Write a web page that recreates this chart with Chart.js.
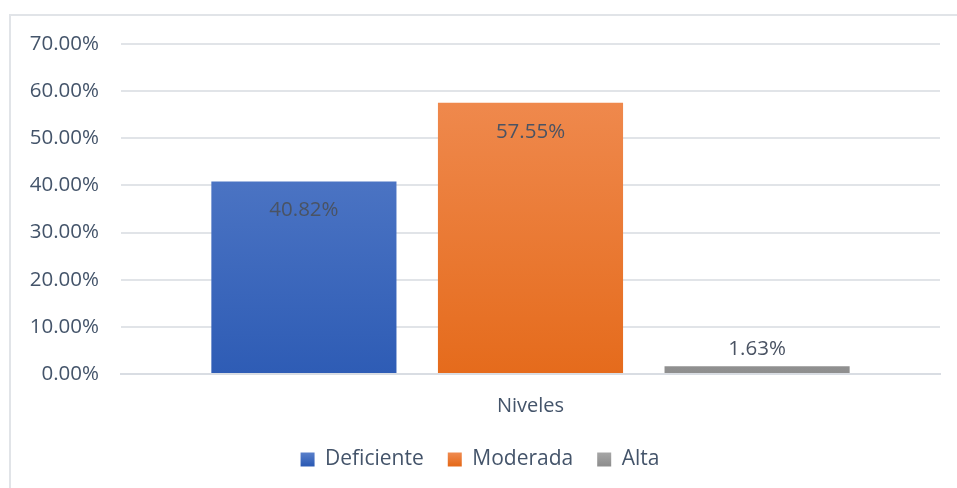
<!DOCTYPE html>
<html>
<head>
<meta charset="utf-8">
<script src="https://cdn.jsdelivr.net/npm/chart.js@4/dist/chart.umd.min.js"></script>
<style>
  body { margin: 0; background: #fff; }
  .frame { position: absolute; left: 9px; top: 14px; width: 960px; height: 490px; border: 2px solid #e1e4e8; box-sizing: border-box; }
  .wrap { position: absolute; left: 0; top: 0; width: 957px; height: 488px; }
</style>
</head>
<body>
<div class="frame"></div>
<div class="wrap"><canvas id="myChart"></canvas></div>
<script>
// data
const categories = ["Niveles"];
const seriesNames = ["Deficiente", "Moderada", "Alta"];
const deficiente = [40.82];
const moderada = [57.55];
const alta = [1.63];
const yTicks = [0, 10, 20, 30, 40, 50, 60, 70];

// top / bottom colours of each bar gradient
const colors = [
  ["#5f84cd", "#2e5cb5"],
  ["#f18f57", "#e56b1c"],
  ["#a9a9a9", "#8f8f8f"]
];

const ctx = document.getElementById('myChart').getContext('2d');
const textColor = "#44546a";
const font = "'Open Sans', sans-serif";

function gradient(i) {
  return (c) => {
    const area = c.chart.chartArea;
    if (!area) return colors[i][1];
    const el = c.element;
    const top = el && el.y != null ? el.y : area.top;
    const g = c.chart.ctx.createLinearGradient(0, top, 0, area.bottom);
    g.addColorStop(0, colors[i][0]);
    g.addColorStop(1, colors[i][1]);
    return g;
  };
}

// simple value labels (inside end for tall bars, above for short)
const valueLabels = {
  id: 'valueLabels',
  afterDatasetsDraw(chart) {
    const c = chart.ctx;
    c.save();
    c.font = "20.5px " + font;
    c.fillStyle = "#4a5363";
    c.textAlign = "center";
    c.textBaseline = "middle";
    chart.data.datasets.forEach((ds, i) => {
      chart.getDatasetMeta(i).data.forEach((bar, j) => {
        const v = ds.data[j];
        const h = bar.base - bar.y;
        const y = h > 40 ? bar.y + 29 : bar.y - 17;
        c.fillText(v.toFixed(2) + "%", bar.x, y);
      });
    });
    c.restore();
  }
};

const seriesData = [deficiente, moderada, alta];

new Chart(ctx, {
  type: 'bar',
  data: {
    labels: categories,
    datasets: seriesNames.map((name, i) => ({
      label: name,
      data: seriesData[i],
      backgroundColor: gradient(i),
      borderWidth: 0,
      categoryPercentage: 0.83,
      barPercentage: 0.817
    }))
  },
  options: {
    responsive: true,
    maintainAspectRatio: false,
    animation: false,
    layout: { padding: { left: 20, right: 17, top: 44, bottom: 8 } },
    plugins: {
      tooltip: { enabled: false },
      legend: {
        position: 'bottom',
        labels: {
          color: textColor,
          font: { size: 21, family: font },
          boxWidth: 14,
          boxHeight: 14,
          padding: 24,
          generateLabels(chart) {
            return seriesNames.map((name, i) => {
              const g = chart.ctx.createLinearGradient(0, 451, 0, 465);
              g.addColorStop(0, colors[i][0]);
              g.addColorStop(1, colors[i][1]);
              return { text: name, fillStyle: g, strokeStyle: g, lineWidth: 0, datasetIndex: i, fontColor: textColor };
            });
          }
        }
      }
    },
    scales: {
      x: {
        grid: { display: false, drawTicks: false },
        border: { color: "#d9dde3", width: 2 },
        ticks: { color: textColor, font: { size: 20, family: font }, padding: 20 },
        afterFit(s) { s.height = 51; }
      },
      y: {
        min: 0,
        max: 70,
        afterBuildTicks(s) { s.ticks = yTicks.map(v => ({ value: v })); },
        grid: { color: "#e1e4e8", lineWidth: 2, drawTicks: false },
        border: { display: false },
        ticks: {
          color: textColor,
          font: { size: 20.5, family: font },
          padding: 22,
          callback: v => v.toFixed(2) + "%"
        },
        afterFit(s) { s.width = 101; }
      }
    }
  },
  plugins: [valueLabels]
});
</script>
</body>
</html>
